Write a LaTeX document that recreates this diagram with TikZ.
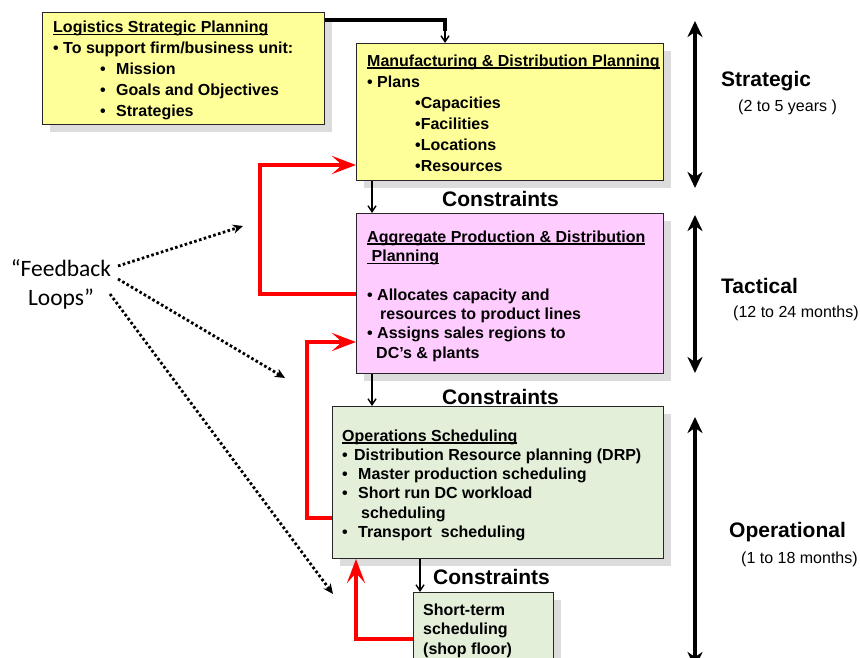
\documentclass[tikz,border=0pt]{standalone}
\usepackage{fontspec}
\setmainfont{Liberation Sans}
\newfontfamily\calfont{Carlito}
\usetikzlibrary{arrows.meta}
\definecolor{yellowbox}{HTML}{FFFF99}
\definecolor{pinkbox}{HTML}{FFCCFF}
\definecolor{greenbox}{HTML}{E3EFD9}
\definecolor{shadowgrey}{HTML}{DCDCDC}
\definecolor{loopred}{HTML}{FF0000}
\newsavebox\ulbox
\newcommand\myul[1]{\sbox\ulbox{#1}\rlap{\rule[-2.4pt]{\wd\ulbox}{1.2pt}}\usebox\ulbox}
\newcommand\bul[1]{\makebox[#1][l]{•}}
\begin{document}
\begin{tikzpicture}[x=1pt,y=-1pt,
  box/.style={draw=black!85, line width=1pt, anchor=north west, inner sep=0pt},
  shadowfill/.style={fill=shadowgrey, draw=none},
  boxtxt/.style={anchor=north west, inner sep=0pt, align=left},
  sidelabel/.style={anchor=base west, inner sep=0pt, font=\fontsize{21}{25}\selectfont\bfseries},
  sidenote/.style={anchor=base west, inner sep=0pt, font=\fontsize{16}{19}\selectfont},
  constr/.style={anchor=base west, inner sep=0pt, font=\fontsize{21}{25}\selectfont\bfseries},
  flow/.style={line width=1.4pt, -{Straight Barb[length=6pt,width=8pt]}},
  span/.style={line width=4pt, {Stealth[length=16pt,width=15pt,inset=5pt]}-{Stealth[length=16pt,width=15pt,inset=5pt]}},
  loop/.style={line width=4.3pt, loopred, line join=miter, -{Stealth[length=24pt,width=18pt,inset=10pt]}},
  fbarrow/.style={line width=2.8pt, dash pattern=on 2.6pt off 2.4pt, -{Stealth[length=10pt,width=9pt,inset=3pt]}}
]
\useasboundingbox (0,0) rectangle (860,658);
\clip (0,0) rectangle (860,658);

% shadows
\fill[shadowfill] (50,20) rectangle (332,132);
\fill[shadowfill] (364,51) rectangle (671,188);
\fill[shadowfill] (364,221) rectangle (671,381);
\fill[shadowfill] (340,414) rectangle (671,566);
\fill[shadowfill] (421,600) rectangle (561,700);

% boxes
\node[box, fill=yellowbox, minimum width=282pt, minimum height=112pt] (b1) at (42,12) {};
\node[box, fill=yellowbox, minimum width=307pt, minimum height=137pt] (b2) at (356,43) {};
\node[box, fill=pinkbox, minimum width=307pt, minimum height=160pt] (b3) at (356,213) {};
\node[box, fill=greenbox, minimum width=331pt, minimum height=152pt] (b4) at (332,406) {};
\node[box, fill=greenbox, minimum width=140pt, minimum height=110pt] (b5) at (413,592) {};

% box texts
\node[boxtxt, font=\fontsize{16}{21}\selectfont\bfseries] (t1) at (53,18.5) {\rule{0pt}{14pt}\myul{Logistics Strategic Planning}\\
• To support firm/business unit:\\
\hspace*{47pt}\bul{16pt}Mission\\
\hspace*{47pt}\bul{16pt}Goals and Objectives\\
\hspace*{47pt}\bul{16pt}Strategies};

\node[boxtxt, font=\fontsize{16}{21}\selectfont\bfseries] (t2) at (367,52) {\rule{0pt}{14pt}\myul{Manufacturing \& Distribution Planning}\\
• Plans\\
\hspace*{48pt}•Capacities\\
\hspace*{48pt}•Facilities\\
\hspace*{48pt}•Locations\\
\hspace*{48pt}•Resources};

\node[boxtxt, font=\fontsize{16}{19.33}\selectfont\bfseries] (t3) at (367,228) {\rule{0pt}{14pt}\myul{Aggregate Production \& Distribution}\\
\myul{\ Planning}\\[19.33pt]
• Allocates capacity and\\
\hspace*{13pt}resources to product lines\\
• Assigns sales regions to\\
\hspace*{9pt}DC’s \& plants};

\node[boxtxt, font=\fontsize{16}{19.2}\selectfont\bfseries] (t4) at (342,427) {\rule{0pt}{14pt}\myul{Operations Scheduling}\\
\bul{12pt}Distribution Resource planning (DRP)\\
\bul{16pt}Master production scheduling\\
\bul{16pt}Short run DC workload\\
\hspace*{19pt}scheduling\\
\bul{16pt}Transport\ \ scheduling};

\node[boxtxt, font=\fontsize{16}{19.5}\selectfont\bfseries] (t5) at (423,601) {\rule{0pt}{14pt}Short-term\\
scheduling\\
(shop floor)};

% top connector
\coordinate (bend) at (445,31);
\draw[line width=3.5pt, line join=miter] (b1.east |- 0,20) -- (445,20) -- (bend);
\draw[flow] (445,29) -- (b2.north -| 445,0);

% constraints
\draw[flow] (b2.south -| 372,0) -- (b3.north -| 372,0);
\draw[flow] (b3.south -| 372,0) -- (b4.north -| 372,0);
\draw[flow] (b4.south -| 420,0) -- (b5.north -| 420,0);
\node[constr] (c1) at (442,207) {Constraints};
\node[constr] (c2) at (442,404) {Constraints};
\node[constr] (c3) at (433,584) {Constraints};

% red feedback loops
\draw[loop] (b3.west |- 0,294) -| (260,165) -- (b2.west |- 0,165);
\draw[loop] (b4.west |- 0,518) -| (307,342) -- (b3.west |- 0,342);
\draw[loop] (b5.west |- 0,639) -| (b4.south -| 356,0);

% time horizons
\coordinate (s1) at (695,21); \coordinate (s2) at (695,188);
\coordinate (ta1) at (695,215); \coordinate (ta2) at (695,373);
\coordinate (o1) at (695,417); \coordinate (o2) at (695,668);
\draw[span] (s1) -- (s2);
\draw[span] (ta1) -- (ta2);
\draw[span] (o1) -- (o2);
\node[sidelabel] (l1) at (721,87) {Strategic};
\node[sidenote] (n1) at (738,112) {(2 to 5 years )};
\node[sidelabel] (l2) at (721,293) {Tactical};
\node[sidenote] (n2) at (733,317) {(12 to 24 months)};
\node[sidelabel] (l3) at (729,537.5) {Operational};
\node[sidenote] (n3) at (741,563) {(1 to 18 months)};

% feedback loops label
\node[anchor=north, inner sep=0pt, align=center, font=\calfont\fontsize{23.5}{29}\selectfont] (fb) at (61,258.7) {\rule{0pt}{18pt}“Feedback\\ Loops”};
\coordinate (f1s) at (118,266); \coordinate (f1e) at (243,226);
\coordinate (f2s) at (118,279); \coordinate (f2e) at (285,378);
\coordinate (f3s) at (110,294); \coordinate (f3e) at (333,594);
\draw[fbarrow] (f1s) -- (f1e);
\draw[fbarrow] (f2s) -- (f2e);
\draw[fbarrow] (f3s) -- (f3e);
\end{tikzpicture}
\end{document}
